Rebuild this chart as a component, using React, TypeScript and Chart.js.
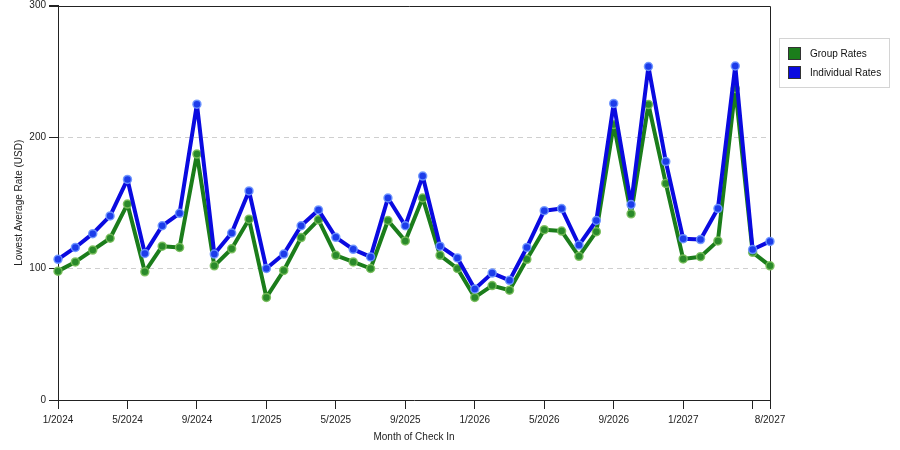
import React, { useEffect, useRef } from 'react';
import Chart from 'chart.js/auto';

const months = [
  '1/2024', '2/2024', '3/2024', '4/2024', '5/2024', '6/2024', '7/2024', '8/2024',
  '9/2024', '10/2024', '11/2024', '12/2024', '1/2025', '2/2025', '3/2025', '4/2025',
  '5/2025', '6/2025', '7/2025', '8/2025', '9/2025', '10/2025', '11/2025', '12/2025',
  '1/2026', '2/2026', '3/2026', '4/2026', '5/2026', '6/2026', '7/2026', '8/2026',
  '9/2026', '10/2026', '11/2026', '12/2026', '1/2027', '2/2027', '3/2027', '4/2027',
  '5/2027', '8/2027',
];

const groupRates = [
  98, 105, 114, 123, 149, 97.5, 117, 116, 187, 102, 115, 137.5, 78, 98.5, 123.5, 137,
  110, 105, 100, 136.5, 121, 153.6, 110, 100, 78, 87, 83.5, 107, 129.5, 128.5, 109.3, 128,
  209.6, 141.6, 224.7, 164.7, 107.3, 109, 121, 236.8, 112.3, 102,
];

const individualRates = [
  107, 116, 126.5, 140, 167.7, 111.5, 132.5, 142, 225, 111, 127, 159, 100, 111, 132.5, 144.5,
  123.7, 114.6, 108.8, 153.6, 132.5, 170.3, 117, 108, 84.4, 96.5, 91, 116, 144, 145.6, 117.8, 136.5,
  225.5, 148.6, 253.6, 181.3, 122.7, 122, 145.6, 254, 114.4, 120.6,
];

// which month indices get a tick mark, and which of those get no label
const tickIndices = [0, 4, 8, 12, 16, 20, 24, 28, 32, 36, 40, 41];
const hiddenLabels = [40];

const yTicks = [0, 100, 200, 300];

const GREEN = '#1b7d1b';
const BLUE = '#0a0ae0';
const FONT = 'Liberation Sans, Arial, sans-serif';

const frame = {
  id: 'frame',
  beforeDatasetsDraw(chart: Chart) {
    const { ctx, chartArea } = chart;
    ctx.save();
    ctx.strokeStyle = '#222';
    ctx.lineWidth = 1;
    ctx.beginPath();
    ctx.moveTo(chartArea.left - 9, Math.round(chartArea.top) + 0.5);
    ctx.lineTo(Math.round(chartArea.right) + 0.5, Math.round(chartArea.top) + 0.5);
    ctx.lineTo(Math.round(chartArea.right) + 0.5, chartArea.bottom);
    ctx.stroke();
    ctx.restore();
  },
};

const boxLegend = {
  id: 'boxLegend',
  afterDraw(chart: Chart) {
    const { ctx } = chart;
    ctx.save();
    ctx.strokeStyle = '#d4d4d4';
    ctx.lineWidth = 1;
    ctx.strokeRect(779.5, 38.5, 110, 49);
    const items = [
      { label: 'Group Rates', color: GREEN },
      { label: 'Individual Rates', color: BLUE },
    ];
    ctx.font = `10px ${FONT}`;
    ctx.textBaseline = 'middle';
    items.forEach((item, i) => {
      const y = 47 + i * 19;
      ctx.fillStyle = item.color;
      ctx.fillRect(788, y, 13, 13);
      ctx.strokeStyle = '#333';
      ctx.strokeRect(788.5, y + 0.5, 12, 12);
      ctx.fillStyle = '#111';
      ctx.fillText(item.label, 810, y + 7);
    });
    ctx.restore();
  },
};

const App: React.FC = () => {
  const canvasRef = useRef<HTMLCanvasElement>(null);
  const chartRef = useRef<Chart | null>(null);

  useEffect(() => {
    if (!canvasRef.current) return;
    if (chartRef.current) chartRef.current.destroy();
    const ctx = canvasRef.current.getContext('2d');
    if (!ctx) return;

    chartRef.current = new Chart(ctx, {
      type: 'line',
      data: {
        labels: months,
        datasets: [
          {
            label: 'Group Rates',
            data: groupRates,
            borderColor: GREEN,
            backgroundColor: GREEN,
            borderWidth: 4,
            borderJoinStyle: 'round',
            pointRadius: 4,
            pointBackgroundColor: '#2a8a2a',
            pointBorderColor: 'rgba(120,190,90,0.9)',
            pointBorderWidth: 1.5,
            tension: 0,
            order: 1,
          },
          {
            label: 'Individual Rates',
            data: individualRates,
            borderColor: BLUE,
            backgroundColor: BLUE,
            borderWidth: 4,
            borderJoinStyle: 'round',
            pointRadius: 4,
            pointBackgroundColor: '#1c3cea',
            pointBorderColor: 'rgba(110,150,255,0.9)',
            pointBorderWidth: 1.5,
            tension: 0,
            order: 0,
          },
        ],
      },
      options: {
        responsive: false,
        animation: false,
        layout: { padding: { top: 5, right: 130, bottom: 0, left: 0 } },
        plugins: {
          legend: { display: false },
          tooltip: { enabled: false },
        },
        scales: {
          x: {
            type: 'category',
            offset: false,
            afterFit: (scale: any) => {
              scale.height = 50;
              scale.paddingLeft = 0;
              scale.paddingRight = 0;
            },
            afterBuildTicks: (scale: any) => {
              scale.ticks = scale.ticks.filter((t: any) => tickIndices.includes(t.value));
            },
            ticks: {
              autoSkip: false,
              maxRotation: 0,
              padding: 5,
              color: '#222',
              font: { family: FONT, size: 10 },
              callback: (value: any) => (hiddenLabels.includes(value) ? '' : months[value]),
            },
            grid: {
              drawOnChartArea: false,
              drawTicks: true,
              tickLength: 9,
              tickColor: '#222',
            },
            border: { color: '#222', width: 1 },
            title: {
              display: true,
              text: 'Month of Check In',
              color: '#222',
              font: { family: FONT, size: 10 },
              padding: { top: 0, bottom: 7 },
            },
          },
          y: {
            min: 0,
            max: 300,
            afterFit: (scale: any) => {
              scale.width = 58;
              scale.paddingTop = 0;
              scale.paddingBottom = 0;
            },
            afterBuildTicks: (scale: any) => {
              scale.ticks = yTicks.map((v) => ({ value: v }));
            },
            ticks: {
              padding: 3,
              color: '#222',
              font: { family: FONT, size: 10 },
            },
            grid: {
              color: (c: any) =>
                c.tick && (c.tick.value === 0 || c.tick.value === 300) ? 'rgba(0,0,0,0)' : '#cfcfcf',
              tickLength: 9,
              tickColor: '#222',
              tickBorderDash: [],
            },
            border: { color: '#222', width: 1, dash: [5, 4] },
            title: {
              display: true,
              text: 'Lowest Average Rate (USD)',
              color: '#222',
              font: { family: FONT, size: 10 },
              padding: { top: 13, bottom: 0 },
            },
          },
        },
      },
      plugins: [frame, boxLegend],
    });

    return () => {
      if (chartRef.current) {
        chartRef.current.destroy();
        chartRef.current = null;
      }
    };
  }, []);

  return (
    <div style={{ position: 'fixed', left: 0, top: 0, width: '900px', height: '450px', background: '#fff' }}>
      <canvas ref={canvasRef} width={900} height={450} style={{ display: 'block' }} />
    </div>
  );
};

export default App;
